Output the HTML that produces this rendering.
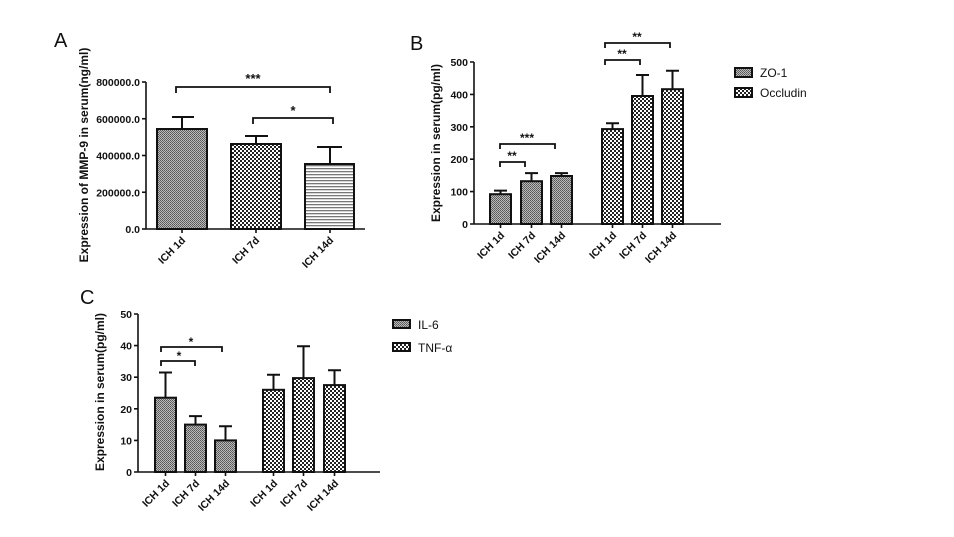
<!DOCTYPE html>
<html><head><meta charset="utf-8"><style>body{margin:0;background:#fff}svg{display:block}</style></head>
<body>
<svg width="954" height="537" viewBox="0 0 954 537" xmlns="http://www.w3.org/2000/svg" font-family="Liberation Sans, sans-serif">
<defs>
<pattern id="fine" width="2" height="2" patternUnits="userSpaceOnUse"><rect width="2" height="2" fill="#bbb"/><rect width="1" height="1" fill="#555"/><rect x="1" y="1" width="1" height="1" fill="#666"/></pattern>
<pattern id="chk" width="4" height="4" patternUnits="userSpaceOnUse"><rect width="4" height="4" fill="#fff"/><rect width="2" height="2" fill="#222"/><rect x="2" y="2" width="2" height="2" fill="#222"/></pattern>
<pattern id="hl" width="3" height="3" patternUnits="userSpaceOnUse"><rect width="3" height="3" fill="#fff"/><rect y="0" width="3" height="1.3" fill="#777"/></pattern>
</defs>
<g fill="#111" font-size="20"><text x="54" y="47">A</text><text x="410" y="50">B</text><text x="80" y="304">C</text></g>

<!-- Panel A -->
<g stroke="#111" stroke-width="1.6" fill="none">
<line x1="146" y1="82" x2="146" y2="229"/><line x1="146" y1="229" x2="365" y2="229"/>
<line x1="142" y1="82" x2="146" y2="82"/><line x1="142" y1="118.75" x2="146" y2="118.75"/><line x1="142" y1="155.5" x2="146" y2="155.5"/><line x1="142" y1="192.25" x2="146" y2="192.25"/><line x1="142" y1="229" x2="146" y2="229"/>
<line x1="182" y1="229" x2="182" y2="233"/><line x1="256" y1="229" x2="256" y2="233"/><line x1="330" y1="229" x2="330" y2="233"/>
</g>
<g stroke="#111" stroke-width="2">
<rect x="157" y="129" width="50" height="100" fill="url(#fine)"/>
<rect x="231" y="144" width="50" height="85" fill="url(#chk)"/>
<rect x="305" y="164" width="49" height="65" fill="url(#hl)"/>
<path d="M182 129V117M172 117H194M256 144V136M245 136H268M330 164V147M317 147H342" fill="none"/>
<path d="M176 93V87H330V93M253 124V118H333V124" fill="none" stroke-width="1.8"/>
</g>
<g font-size="10.5" font-weight="bold" fill="#111" text-anchor="end">
<text x="140" y="86">800000.0</text><text x="140" y="122.75">600000.0</text><text x="140" y="159.5">400000.0</text><text x="140" y="196.25">200000.0</text><text x="140" y="233">0.0</text>
<text transform="translate(186,241) rotate(-45)">ICH 1d</text><text transform="translate(260,241) rotate(-45)">ICH 7d</text><text transform="translate(334,241) rotate(-45)">ICH 14d</text>
</g>
<g font-size="13" font-weight="bold" fill="#111" text-anchor="middle"><text x="253" y="83">***</text><text x="293" y="115">*</text></g>
<text transform="translate(88,155) rotate(-90)" text-anchor="middle" font-size="12" font-weight="bold" fill="#111">Expression of MMP-9 in serum(ng/ml)</text>

<!-- Panel B -->
<g stroke="#111" stroke-width="1.6" fill="none">
<line x1="474" y1="62" x2="474" y2="224"/><line x1="474" y1="224" x2="721" y2="224"/>
<path d="M470 62H474M470 94.4H474M470 126.8H474M470 159.2H474M470 191.6H474M470 224H474"/>
<path d="M500.5 224V228M531.5 224V228M561.5 224V228M612.5 224V228M642.5 224V228M672.5 224V228"/>
</g>
<g stroke="#111" stroke-width="2">
<rect x="490" y="194.2" width="21" height="29.8" fill="url(#fine)"/>
<rect x="521" y="181.2" width="21" height="42.8" fill="url(#fine)"/>
<rect x="551" y="176" width="21" height="48" fill="url(#fine)"/>
<rect x="602" y="129.1" width="21" height="94.9" fill="url(#chk)"/>
<rect x="632" y="96" width="21" height="128" fill="url(#chk)"/>
<rect x="662" y="89.2" width="21" height="134.8" fill="url(#chk)"/>
<path d="M500.5 194V190.6M494 190.6H507M531.5 181V173.1M525 173.1H538M561.5 176V173.1M555 173.1H568M612.5 129V123.2M606 123.2H619M642.5 96V75M636 75H649M672.5 89V70.8M666 70.8H679" fill="none"/>
<path d="M500 167V162H525V167M500 149V144H555V149M605 65V60H640V65M605 48V43H670V48" fill="none" stroke-width="1.8"/>
<rect x="735" y="68" width="17" height="9" fill="url(#fine)"/><rect x="735" y="88" width="17" height="9" fill="url(#chk)"/>
</g>
<g font-size="12" fill="#111"><text x="760" y="77">ZO-1</text><text x="760" y="97">Occludin</text></g>
<g font-size="10.5" font-weight="bold" fill="#111" text-anchor="end">
<text x="468" y="66">500</text><text x="468" y="98.4">400</text><text x="468" y="130.8">300</text><text x="468" y="163.2">200</text><text x="468" y="195.6">100</text><text x="468" y="228">0</text>
<text transform="translate(505,236) rotate(-45)">ICH 1d</text><text transform="translate(536,236) rotate(-45)">ICH 7d</text><text transform="translate(566,236) rotate(-45)">ICH 14d</text>
<text transform="translate(617,236) rotate(-45)">ICH 1d</text><text transform="translate(647,236) rotate(-45)">ICH 7d</text><text transform="translate(677,236) rotate(-45)">ICH 14d</text>
</g>
<g font-size="12" font-weight="bold" fill="#111" text-anchor="middle"><text x="512" y="160">**</text><text x="527" y="142">***</text><text x="622" y="58">**</text><text x="637" y="41">**</text></g>
<text transform="translate(440,143) rotate(-90)" text-anchor="middle" font-size="12" font-weight="bold" fill="#111">Expression in serum(pg/ml)</text>

<!-- Panel C -->
<g stroke="#111" stroke-width="1.6" fill="none">
<line x1="138" y1="314" x2="138" y2="472"/><line x1="138" y1="472" x2="380" y2="472"/>
<path d="M134 314H138M134 345.6H138M134 377.2H138M134 408.8H138M134 440.4H138M134 472H138"/>
<path d="M165.5 472V476M195.5 472V476M225.5 472V476M273.5 472V476M303.5 472V476M334.5 472V476"/>
</g>
<g stroke="#111" stroke-width="2">
<rect x="155" y="397.7" width="21" height="74.3" fill="url(#fine)"/>
<rect x="185" y="424.6" width="21" height="47.4" fill="url(#fine)"/>
<rect x="215" y="440.4" width="21" height="31.6" fill="url(#fine)"/>
<rect x="263" y="389.8" width="21" height="82.2" fill="url(#chk)"/>
<rect x="293" y="378.1" width="21" height="93.9" fill="url(#chk)"/>
<rect x="324" y="385.1" width="21" height="86.9" fill="url(#chk)"/>
<path d="M165.5 397.7V372.5M159 372.5H172M195.5 424.6V416.1M189 416.1H202M225.5 440.4V426.2M219 426.2H232M273.5 389.8V374.7M267 374.7H280M303.5 378.1V346.2M297 346.2H310M334.5 385.1V370.2M328 370.2H341" fill="none"/>
<path d="M161 366V361H195V366M161 352V347H222V352" fill="none" stroke-width="1.8"/>
<rect x="393" y="320" width="17" height="8" fill="url(#fine)"/><rect x="393" y="343" width="17" height="8" fill="url(#chk)"/>
</g>
<g font-size="12" fill="#111"><text x="418" y="329">IL-6</text><text x="418" y="352">TNF-α</text></g>
<g font-size="10.5" font-weight="bold" fill="#111" text-anchor="end">
<text x="132" y="318">50</text><text x="132" y="349.6">40</text><text x="132" y="381.2">30</text><text x="132" y="412.8">20</text><text x="132" y="444.4">10</text><text x="132" y="476">0</text>
<text transform="translate(170,484) rotate(-45)">ICH 1d</text><text transform="translate(200,484) rotate(-45)">ICH 7d</text><text transform="translate(230,484) rotate(-45)">ICH 14d</text>
<text transform="translate(278,484) rotate(-45)">ICH 1d</text><text transform="translate(308,484) rotate(-45)">ICH 7d</text><text transform="translate(339,484) rotate(-45)">ICH 14d</text>
</g>
<g font-size="12" font-weight="bold" fill="#111" text-anchor="middle"><text x="179" y="360">*</text><text x="191" y="346">*</text></g>
<text transform="translate(104,392) rotate(-90)" text-anchor="middle" font-size="12" font-weight="bold" fill="#111">Expression in serum(pg/ml)</text>
</svg>
</body></html>
